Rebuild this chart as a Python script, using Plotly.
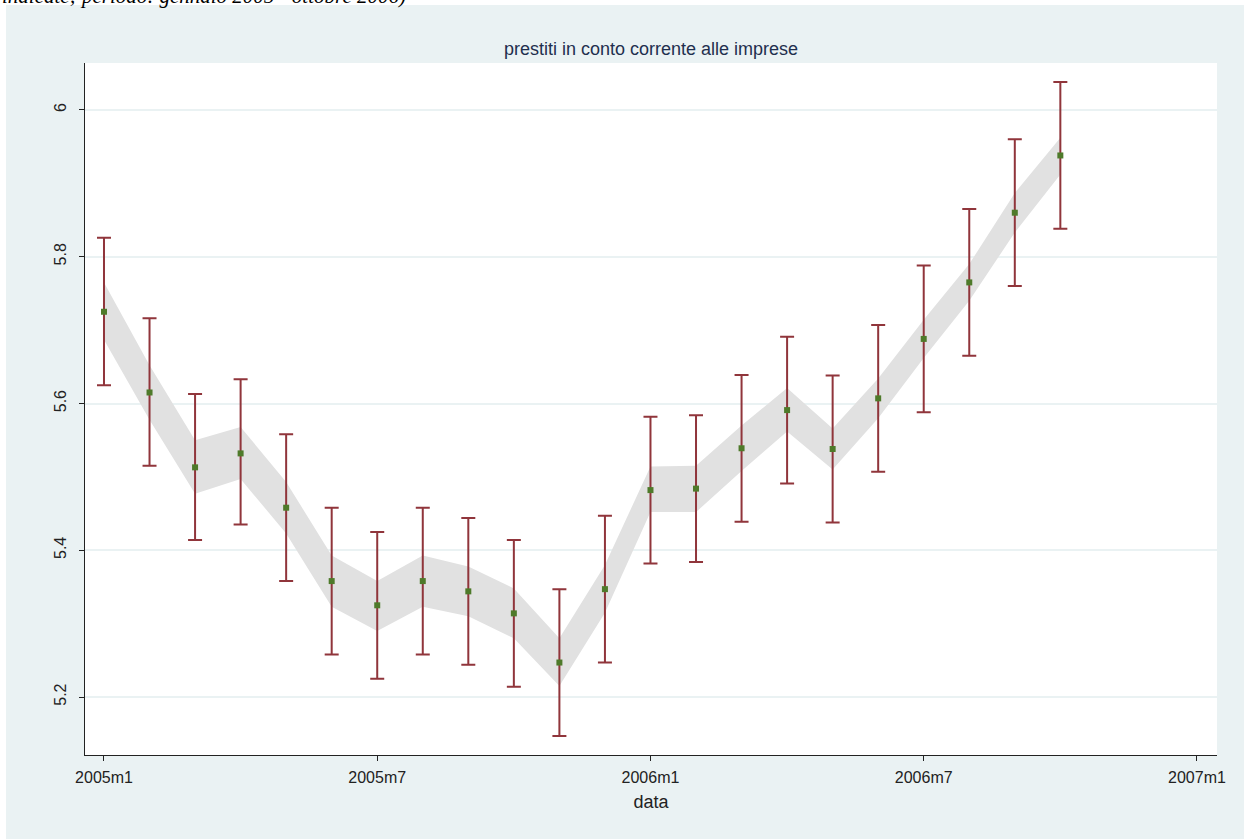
import plotly.graph_objects as go

# Monthly observations, January 2005 - October 2006 (month index from 2005m1)
months = list(range(22))
rate = [5.725, 5.615, 5.513, 5.532, 5.458, 5.358, 5.325, 5.358, 5.344, 5.314, 5.247,
        5.347, 5.482, 5.484, 5.539, 5.591, 5.538, 5.607, 5.688, 5.765, 5.860, 5.938]
ci_low = [5.625, 5.515, 5.414, 5.435, 5.358, 5.258, 5.225, 5.258, 5.244, 5.214, 5.147,
          5.247, 5.382, 5.384, 5.439, 5.491, 5.438, 5.507, 5.588, 5.665, 5.760, 5.838]
ci_high = [5.826, 5.716, 5.613, 5.633, 5.558, 5.458, 5.425, 5.458, 5.444, 5.414, 5.347,
           5.447, 5.582, 5.584, 5.639, 5.691, 5.638, 5.707, 5.788, 5.865, 5.960, 6.038]
band_low = [5.687, 5.578, 5.477, 5.497, 5.423, 5.323, 5.290, 5.323, 5.310, 5.280, 5.215,
            5.315, 5.452, 5.452, 5.508, 5.562, 5.510, 5.580, 5.662, 5.740, 5.833, 5.912]
band_high = [5.765, 5.652, 5.550, 5.568, 5.493, 5.393, 5.358, 5.393, 5.378, 5.348, 5.280,
             5.380, 5.514, 5.515, 5.570, 5.621, 5.566, 5.634, 5.714, 5.790, 5.887, 5.962]

tick_vals = [0, 6, 12, 18, 24]
tick_text = ["2005m1", "2005m7", "2006m1", "2006m7", "2007m1"]
y_ticks = [5.2, 5.4, 5.6, 5.8, 6.0]
y_text = ["5.2", "5.4", "5.6", "5.8", "6"]

PANEL = "#EAF2F3"
BAR = "#90353B"
MARK = "#4E7A2A"
FONT = "Liberation Sans, Arial, sans-serif"

fig = go.Figure()

# shaded band
fig.add_trace(go.Scatter(x=months, y=band_low, mode="lines", line=dict(width=0),
                         hoverinfo="skip", showlegend=False))
fig.add_trace(go.Scatter(x=months, y=band_high, mode="lines", line=dict(width=0),
                         fill="tonexty", fillcolor="#E1E1E1",
                         hoverinfo="skip", showlegend=False))

# point estimates with confidence intervals
fig.add_trace(go.Scatter(
    x=months, y=rate, mode="markers",
    marker=dict(symbol="square", size=6, color=MARK),
    error_y=dict(type="data", symmetric=False,
                 array=[h - r for h, r in zip(ci_high, rate)],
                 arrayminus=[r - l for r, l in zip(rate, ci_low)],
                 color=BAR, thickness=2, width=7),
    showlegend=False))

fig.update_layout(
    width=1244, height=839,
    margin=dict(l=85, r=27, t=63, b=84),
    paper_bgcolor=PANEL, plot_bgcolor="white",
    font=dict(family=FONT, size=16, color="#222222"),
    title=dict(text="prestiti in conto corrente alle imprese",
               x=(651 / 1244), xanchor="center", y=1 - 49 / 839, yanchor="middle",
               font=dict(family=FONT, size=18, color="#1F2F4E")),
    xaxis=dict(range=[-0.417, 24.44], tickmode="array", tickvals=tick_vals,
               ticktext=tick_text, showgrid=False, zeroline=False,
               showline=True, linecolor="#222222", linewidth=1,
               ticks="outside", ticklen=5, tickcolor="#222222",
               ticklabelstandoff=3,
               title=dict(text="data", standoff=10, font=dict(size=18))),
    yaxis=dict(range=[5.121, 6.064], tickmode="array", tickvals=y_ticks,
               ticktext=y_text, tickangle=-90, showgrid=True, gridcolor=PANEL,
               gridwidth=2, zeroline=False, showline=True, linecolor="#222222",
               linewidth=1, ticks="outside", ticklen=5, tickcolor="#222222",
               ticklabelstandoff=7),
)

# white page strip around the panel
fig.add_shape(type="rect", xref="paper", yref="paper",
              x0=-85 / 1132, x1=(6 - 85) / 1132, y0=-84 / 692, y1=(755) / 692,
              fillcolor="white", line=dict(width=0), layer="above")
fig.add_shape(type="rect", xref="paper", yref="paper",
              x0=-85 / 1132, x1=(1244 - 85) / 1132, y0=(755 - 5) / 692, y1=755 / 692,
              fillcolor="white", line=dict(width=0), layer="above")

fig.add_annotation(text="<i>indicate; periodo: gennaio 2005 - ottobre 2006)</i>",
                   xref="paper", yref="paper", x=-85 / 1132, xanchor="left",
                   y=(755 + 4) / 692, yanchor="middle", showarrow=False,
                   font=dict(family="Liberation Serif, Times New Roman, serif",
                             size=21, color="black"))

fig.write_html("out.html")
